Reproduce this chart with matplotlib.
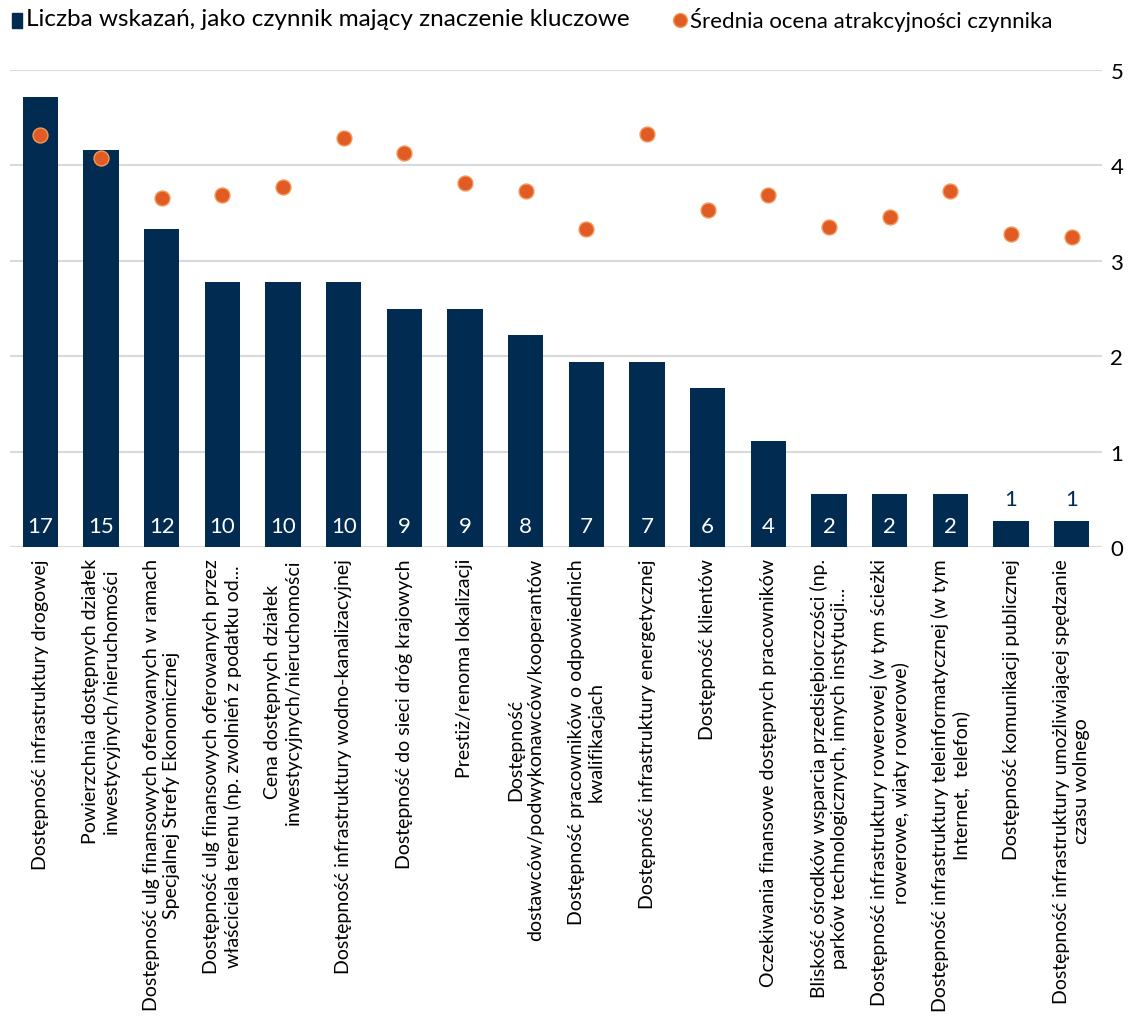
import numpy as np
import matplotlib.pyplot as plt

plt.rcParams['font.family'] = ['Lato', 'DejaVu Sans']

categories = [
    "Dostępność infrastruktury drogowej",
    "Powierzchnia dostępnych działek\ninwestycyjnych/nieruchomości",
    "Dostępność ulg finansowych oferowanych w ramach\nSpecjalnej Strefy Ekonomicznej",
    "Dostępność ulg finansowych oferowanych przez\nwłaściciela terenu (np. zwolnień z podatku od...",
    "Cena dostępnych działek\ninwestycyjnych/nieruchomości",
    "Dostępność infrastruktury wodno-kanalizacyjnej",
    "Dostępność do sieci dróg krajowych",
    "Prestiż/renoma lokalizacji",
    "Dostępność\ndostawców/podwykonawców/kooperantów",
    "Dostępność pracowników o odpowiednich\nkwalifikacjach",
    "Dostępność infrastruktury energetycznej",
    "Dostępność klientów",
    "Oczekiwania finansowe dostępnych pracowników",
    "Bliskość ośrodków wsparcia przedsiębiorczości (np.\nparków technologicznych, innych instytucji...",
    "Dostępność infrastruktury rowerowej (w tym ścieżki\nrowerowe, wiaty rowerowe)",
    "Dostępność infrastruktury teleinformatycznej (w tym\nInternet,  telefon)",
    "Dostępność komunikacji publicznej",
    "Dostępność infrastruktury umożliwiającej spędzanie\nczasu wolnego",
]
counts = [17, 15, 12, 10, 10, 10, 9, 9, 8, 7, 7, 6, 4, 2, 2, 2, 1, 1]
ratings = [4.32, 4.08, 3.66, 3.69, 3.77, 4.29, 4.13, 3.82, 3.73, 3.33,
           4.33, 3.53, 3.69, 3.35, 3.46, 3.73, 3.28, 3.25]
rating_ticks = [0, 1, 2, 3, 4, 5]

navy = "#012B50"
orange = "#E15B25"
count_max = 18
rating_max = 5

fig = plt.figure(figsize=(11.34, 10.2), dpi=100)
ax = fig.add_axes([10 / 1134, 1 - 548 / 1020, 1092 / 1134, 477 / 1020])
ax2 = ax.twinx()

x = np.arange(len(categories))
ax.bar(x, counts, width=0.58, color=navy, zorder=2)
ax.set_ylim(0, count_max)
ax.set_xlim(-0.5, len(categories) - 0.5)
# gridlines on the bar axis so the bars sit on top of them
ax.set_yticks([t * count_max / rating_max for t in rating_ticks])
ax.tick_params(axis='y', length=0, labelleft=False)
ax.grid(axis='y', color='#D9D9D9', linewidth=1.5, zorder=0)
ax.set_axisbelow(True)

for xi, c in zip(x, counts):
    if c >= 2:
        ax.text(xi, 0.4, str(c), ha='center', va='bottom', color='white', fontsize=16)
    else:
        ax.text(xi, c + 0.45, str(c), ha='center', va='bottom', color=navy, fontsize=16)

ax2.scatter(x, ratings, s=115, color=orange, edgecolors="#F39A5C", linewidths=1, zorder=3)
ax2.set_ylim(0, rating_max)
ax2.set_yticks(rating_ticks)
ax2.tick_params(axis='y', length=0, labelsize=16, pad=6)

for a in (ax, ax2):
    for s in a.spines.values():
        s.set_visible(False)

ax.set_xticks(x)
ax.set_xticklabels(categories, rotation=90, ha='center', va='top',
                   multialignment='center', fontsize=14, linespacing=1.25)
ax.tick_params(axis='x', length=0, pad=8)

# legend
fig.patches.append(plt.Rectangle((12 / 1134, 1 - 29 / 1020), 10 / 1134, 15 / 1020,
                                 transform=fig.transFigure, color=navy))
fig.text(26 / 1134, 1 - 20 / 1020, "Liczba wskazań, jako czynnik mający znaczenie kluczowe",
         va='center', ha='left', fontsize=17.5)
fig.add_artist(plt.Line2D([680 / 1134], [1 - 21 / 1020], marker='o', markersize=10,
                          color=orange, markeredgecolor="#F39A5C", transform=fig.transFigure))
fig.text(690 / 1134, 1 - 20 / 1020, "Średnia ocena atrakcyjności czynnika",
         va='center', ha='left', fontsize=16)

fig.savefig("out.png", dpi=100)
